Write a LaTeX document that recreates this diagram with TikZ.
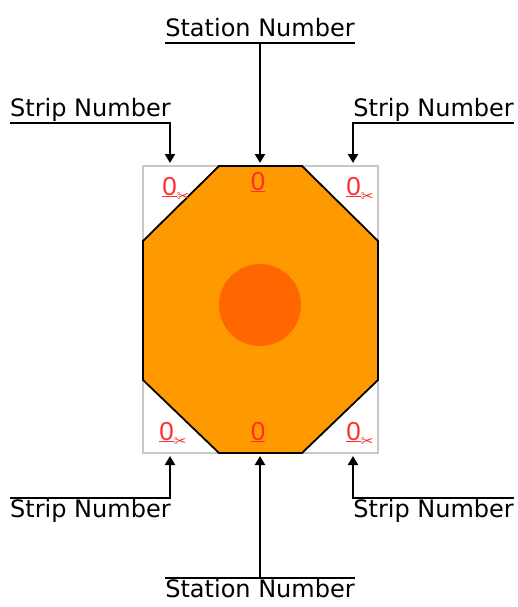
\documentclass[tikz,border=0pt]{standalone}
\usepackage{fontspec}
\setmainfont{DejaVu Sans}
\newfontfamily\zerofont{Liberation Sans}
\newfontfamily\symfont{DejaVu Sans}
\usetikzlibrary{positioning, calc, arrows.meta}
\definecolor{Octo}{HTML}{FF9900}
\definecolor{Spot}{HTML}{FF6600}
\definecolor{Mark}{HTML}{FF2E2E}
\definecolor{Frame}{HTML}{C8C8C8}
\newcommand{\cutmark}{\raisebox{-6pt}{\symfont\fontsize{15}{15}\selectfont ✂}}
\tikzset{
    lbl/.style={inner xsep=0pt, inner ysep=1.5pt, text height=18pt, text depth=5pt, font=\fontsize{24}{28}\selectfont},
    lead/.style={line width=2.2pt, black},
    arr/.style={lead, -{Triangle[width=10pt, length=9pt]}},
    zero/.style={inner sep=0pt, anchor=base, text=Mark, font=\zerofont\fontsize{26}{28}\selectfont},
    octo/.style={fill=Octo, draw=black, line width=1.8pt, line join=miter},
}
\begin{document}
\begin{tikzpicture}[x=1pt, y=-1pt]
    \useasboundingbox (0,0) rectangle (517,607);

    % Riquadro grigio
    \draw[Frame, line width=1.8pt] (143,166) rectangle (378,453);

    % Ottagono e cerchio centrale
    \draw[octo] (219,166) -- (302,166) -- (378,241) -- (378,380)
        -- (302,453) -- (219,453) -- (143,380) -- (143,241) -- cycle;
    \fill[Spot] (260,305) circle (41);

    % Zeri
    \node[zero] (zTL) at (176,195) {\underline{0}\cutmark};
    \node[zero] (zT) at (258,190) {\underline{0}};
    \node[zero] (zTR) at (360,195) {\underline{0}\cutmark};
    \node[zero] (zBL) at (173,440) {\underline{0}\cutmark};
    \node[zero] (zB) at (258,440) {\underline{0}};
    \node[zero] (zBR) at (360,440) {\underline{0}\cutmark};

    % Punti di arrivo delle frecce
    \coordinate (tgtTL) at (170,163);
    \coordinate (tgtT) at (260,163);
    \coordinate (tgtTR) at (353,163);
    \coordinate (tgtBL) at (170,456);
    \coordinate (tgtB) at (260,456);
    \coordinate (tgtBR) at (353,456);

    % Etichette superiori
    \node[lbl, anchor=south] (stationTop) at (260,43) {Station Number};
    \node[lbl, anchor=south west] (stripTL) at (10,123) {Strip Number};
    \node[lbl, anchor=south east] (stripTR) at (514,123) {Strip Number};

    \draw[lead] (stationTop.south west) -- (stationTop.south east);
    \draw[arr] (stationTop.south) -- (tgtT);
    \draw[arr] (stripTL.south west) -| (tgtTL);
    \draw[arr] (stripTR.south east) -| (tgtTR);

    % Etichette inferiori
    \node[lbl, anchor=north] (stationBot) at (260,578) {Station Number};
    \node[lbl, anchor=north west] (stripBL) at (10,498) {Strip Number};
    \node[lbl, anchor=north east] (stripBR) at (514,498) {Strip Number};

    \draw[lead] (stationBot.north west) -- (stationBot.north east);
    \draw[arr] (stationBot.north) -- (tgtB);
    \draw[arr] (stripBL.north west) -| (tgtBL);
    \draw[arr] (stripBR.north east) -| (tgtBR);
\end{tikzpicture}
\end{document}
